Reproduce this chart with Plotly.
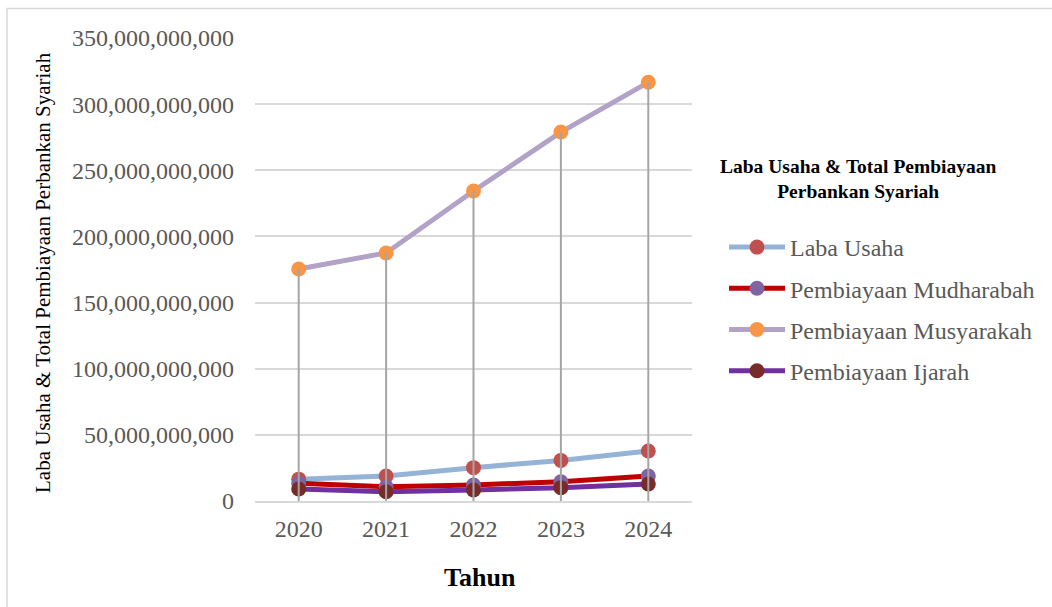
import plotly.graph_objects as go

# Data (Rupiah)
years = ["2020", "2021", "2022", "2023", "2024"]
laba_usaha = [16.5e9, 18.9e9, 25.2e9, 30.7e9, 37.8e9]
mudharabah = [13.4e9, 10.8e9, 12.1e9, 14.6e9, 18.9e9]
musyarakah = [175.4e9, 187.5e9, 234.3e9, 278.9e9, 316.5e9]
ijarah = [9.1e9, 7.0e9, 8.3e9, 10.1e9, 12.9e9]

series = [
    ("Laba Usaha", laba_usaha, "#95b3d7", "#c0504d"),
    ("Pembiayaan Mudharabah", mudharabah, "#c00000", "#8064a2"),
    ("Pembiayaan Musyarakah", musyarakah, "#b3a2c7", "#f79646"),
    ("Pembiayaan Ijarah", ijarah, "#7030a0", "#772c2a"),
]

W, H = 1052, 607
L, R, T, B = 255, 692, 38, 501  # plot area in pixels
FONT = "Liberation Serif, Times New Roman, serif"


def px_x(p):
    return (p - L) / (R - L)


def px_y(p):
    return (B - p) / (B - T)


fig = go.Figure()
for i, (name, vals, lc, mc) in enumerate(series):
    fig.add_trace(go.Scatter(
        x=years, y=vals, name=name, mode="lines+markers",
        line=dict(color=lc, width=5),
        marker=dict(color=mc, size=15),
        legendgroup=f"g{i}",
    ))

# Drop lines from the highest point of each year down to the axis
tops = [max(v) for v in zip(laba_usaha, mudharabah, musyarakah, ijarah)]
dx, dy = [], []
for yr, t in zip(years, tops):
    dx += [yr, yr, None]
    dy += [0, t, None]
fig.add_trace(go.Scatter(
    x=dx, y=dy, mode="lines", line=dict(color="#a5a5a5", width=2),
    showlegend=False, hoverinfo="skip",
))

fig.update_layout(
    width=W, height=H,
    margin=dict(l=L, r=W - R, t=T, b=H - B),
    paper_bgcolor="white", plot_bgcolor="white",
    font=dict(family=FONT, size=24, color="#595959"),
    showlegend=True,
    legend=dict(
        x=px_x(724), y=px_y(225), xanchor="left", yanchor="top",
        font=dict(family=FONT, size=24, color="#595959"),
        traceorder="grouped", tracegroupgap=7,
        itemwidth=56, bgcolor="rgba(0,0,0,0)",
    ),
    xaxis=dict(
        type="category", range=[-0.5, 4.5],
        showgrid=False, showline=True, linecolor="#d9d9d9", linewidth=1.5,
        ticks="", tickfont=dict(family=FONT, size=24, color="#595959"),
        ticklabelstandoff=5, fixedrange=True,
    ),
    yaxis=dict(
        range=[0, 350e9], dtick=50e9, tickformat=",",
        showgrid=True, gridcolor="#d9d9d9", gridwidth=1.5,
        zeroline=True, zerolinecolor="#d9d9d9", zerolinewidth=1.5,
        showline=False, ticks="",
        tickfont=dict(family=FONT, size=24, color="#595959"),
        ticklabelstandoff=20, fixedrange=True,
    ),
    annotations=[
        dict(text="Laba Usaha & Total Pembiayaan Perbankan Syariah",
             xref="paper", yref="paper", x=px_x(43), y=px_y(273),
             xanchor="center", yanchor="middle",
             textangle=-90, showarrow=False,
             font=dict(family=FONT, size=21, color="black")),
        dict(text="<b>Tahun</b>", xref="paper", yref="paper",
             x=px_x(480), y=px_y(577), xanchor="center", yanchor="middle",
             showarrow=False,
             font=dict(family=FONT, size=26, color="black")),
        dict(text="<b>Laba Usaha & Total Pembiayaan<br>Perbankan Syariah</b>",
             xref="paper", yref="paper", x=px_x(858), y=px_y(179),
             xanchor="center", yanchor="middle",
             showarrow=False, align="center",
             font=dict(family=FONT, size=19.5, color="black")),
    ],
    shapes=[
        dict(type="rect", xref="paper", yref="paper",
             x0=px_x(7), x1=px_x(1070), y0=px_y(620), y1=px_y(8.5),
             line=dict(color="#d9d9d9", width=1.5), fillcolor="rgba(0,0,0,0)",
             layer="below"),
    ],
)

fig.write_html("out.html")
